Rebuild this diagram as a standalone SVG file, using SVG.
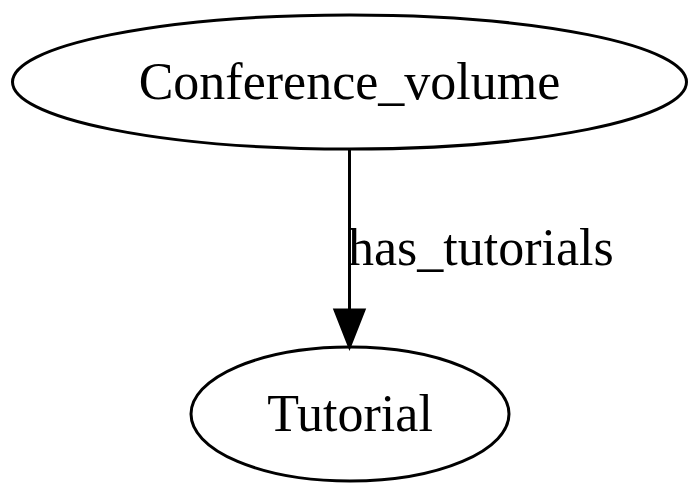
<svg xmlns="http://www.w3.org/2000/svg" width="700" height="498" viewBox="0 0 700 498">
<style>
.node ellipse{fill:none;stroke:#000;stroke-width:3}
text{font-family:"Liberation Serif","Times New Roman",serif;font-size:52px;fill:#000}
.edge line{stroke:#000;stroke-width:3}
.edge polygon{fill:#000;stroke:#000;stroke-width:3}
</style>
<rect width="700" height="498" fill="#fff"/>
<g id="node-conference_volume" class="node">
<ellipse cx="349.5" cy="82" rx="337" ry="67"/>
<text x="349.5" y="99" text-anchor="middle">Conference_volume</text>
</g>
<g id="node-tutorial" class="node">
<ellipse cx="350" cy="414" rx="159" ry="67"/>
<text x="350" y="431" text-anchor="middle">Tutorial</text>
</g>
<g id="connectors" class="edge">
<line x1="349.5" y1="149" x2="349.5" y2="310"/>
<polygon points="335,310 364,310 349.5,347"/>
<text x="348" y="265">has_tutorials</text>
</g>
</svg>
